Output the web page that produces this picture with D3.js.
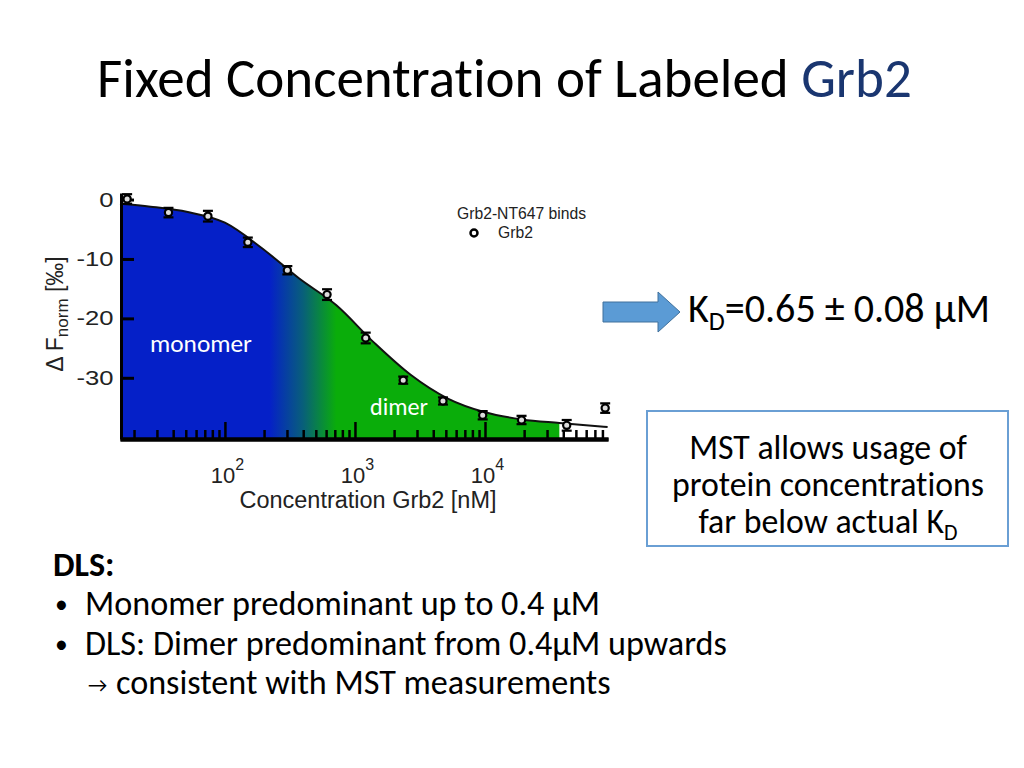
<!DOCTYPE html>
<html>
<head>
<meta charset="utf-8">
<script src="https://cdn.jsdelivr.net/npm/d3@7.9.0/dist/d3.min.js"></script>
<style>
  body { margin: 0; background: #fff; }
  svg { display: block; font-variant-ligatures: none; font-feature-settings: "liga" 0; }
</style>
</head>
<body>
<svg id="slide" width="1024" height="768"></svg>
<script>
// measured points (concentration in nM, response in per mille)
const concentration = [17.7, 36.8, 74, 150, 302, 610, 1210, 2350, 4750, 9600, 19100, 42500, 84000];
const response = [0.1, -2.2, -2.8, -7.2, -11.9, -16.0, -23.3, -30.4, -33.9, -36.3, -37.1, -38.0, -35.1];
const errorBar = [0.8, 0.8, 0.9, 0.8, 0.7, 0.9, 0.9, 0.6, 0.6, 0.7, 0.7, 0.9, 0.8];

// fitted curve
const fitConc = [15.6, 26.8, 51.8, 100, 193, 373, 720, 1390, 2680, 5180, 10000, 19300, 37300, 87700];
const fitResp = [-0.7, -1.2, -2.1, -3.9, -8.2, -13.3, -17.8, -24.0, -29.5, -33.5, -35.8, -37.0, -37.6, -38.3];

const yTicks = [0, -10, -20, -30];
const fillEnd = 37300;          // fill stops here
const blendRange = [220, 720];  // monomer -> dimer colour blend (nM)

const bullets = [
  'Monomer predominant up to 0.4 µM',
  'DLS: Dimer predominant from 0.4µM upwards'
];
const boxLines = ['MST allows usage of', 'protein concentrations', 'far below actual K'];

const slideFont = "Carlito, Calibri, Lato, 'Open Sans', sans-serif";
const chartFont = "'Liberation Sans', Arial, sans-serif";

const svg = d3.select('#slide');
svg.append('rect').attr('width', 1024).attr('height', 768).attr('fill', '#fff');

// scale text font-size so that it spans a given width
function fit(sel, width) {
  const w = sel.node().getComputedTextLength();
  const fs = parseFloat(sel.attr('font-size'));
  sel.attr('font-size', fs * width / w);
  return sel;
}

// ---------- title ----------
const title = svg.append('text')
  .attr('x', 97).attr('y', 97)
  .attr('font-family', slideFont).attr('font-size', 40);
title.append('tspan').attr('fill', '#000').text('Fixed Concentration of Labeled ');
title.append('tspan').attr('fill', '#1a3670').text('Grb2');
fit(title, 815);

// ---------- chart ----------
const xScale = d3.scaleLog().domain([15.6, 88300]).range([120, 608]);
const yScale = d3.scaleLinear().domain([1.1, -40.3]).range([193, 439]);
const bottom = yScale.range()[1];

const fit_data = fitConc.map((c, i) => ({ c, v: fitResp[i] }));
const points = concentration.map((c, i) => ({ c, v: response[i], e: errorBar[i] }));

const defs = svg.append('defs');
const grad = defs.append('linearGradient')
  .attr('id', 'blend')
  .attr('gradientUnits', 'userSpaceOnUse')
  .attr('x1', xScale(blendRange[0])).attr('x2', xScale(blendRange[1]))
  .attr('y1', 0).attr('y2', 0);
grad.append('stop').attr('offset', 0).attr('stop-color', '#0520c8');
grad.append('stop').attr('offset', 0.5).attr('stop-color', '#085f7a');
grad.append('stop').attr('offset', 1).attr('stop-color', '#0aad0a');

const chart = svg.append('g');

const area = d3.area()
  .x(d => xScale(d.c))
  .y0(bottom)
  .y1(d => yScale(d.v))
  .curve(d3.curveMonotoneX);

chart.append('path')
  .datum(fit_data.filter(d => d.c <= fillEnd))
  .attr('d', area)
  .attr('fill', 'url(#blend)');

chart.append('text')
  .attr('x', 150).attr('y', 352)
  .attr('font-family', slideFont).attr('font-size', 20)
  .attr('fill', '#fff').text('monomer')
  .call(s => fit(s, 102));
chart.append('text')
  .attr('x', 370).attr('y', 415)
  .attr('font-family', slideFont).attr('font-size', 20)
  .attr('fill', '#fff').text('dimer')
  .call(s => fit(s, 58));

// x ticks pointing up into the plot
const allTicks = xScale.ticks();
const majors = allTicks.filter(d => Math.abs(Math.log10(d) - Math.round(Math.log10(d))) < 1e-9);
const minors = allTicks.filter(d => !majors.includes(d));

const xMinor = chart.append('g')
  .attr('transform', `translate(0,${bottom})`)
  .call(d3.axisBottom(xScale).tickValues(minors).tickFormat('').tickSizeInner(-9).tickSizeOuter(0));
const xMajor = chart.append('g')
  .attr('transform', `translate(0,${bottom})`)
  .call(d3.axisBottom(xScale).tickValues(majors).tickFormat('').tickSizeInner(-17).tickSizeOuter(0));
[xMinor, xMajor].forEach(g => {
  g.selectAll('.tick line').attr('stroke', '#000').attr('stroke-width', 2.5);
  g.select('.domain').attr('stroke', '#000').attr('stroke-width', 4);
});

majors.forEach(d => {
  const t = chart.append('text')
    .attr('x', xScale(d) + 2.5).attr('y', 483)
    .attr('text-anchor', 'middle')
    .attr('font-family', chartFont).attr('font-size', 22).attr('fill', '#222');
  t.append('tspan').text('10');
  t.append('tspan').attr('font-size', 16).attr('dy', -13).text(Math.round(Math.log10(d)));
});

chart.append('text')
  .attr('x', 368).attr('y', 508)
  .attr('text-anchor', 'middle')
  .attr('font-family', chartFont).attr('font-size', 23).attr('fill', '#222')
  .text('Concentration Grb2 [nM]')
  .call(s => fit(s, 257));

// fitted line
chart.append('path')
  .datum(fit_data)
  .attr('d', d3.line().x(d => xScale(d.c)).y(d => yScale(d.v)).curve(d3.curveMonotoneX))
  .attr('fill', 'none')
  .attr('stroke', '#111')
  .attr('stroke-width', 2);

// y axis
const yAxis = chart.append('g')
  .attr('transform', 'translate(121,0)')
  .call(d3.axisLeft(yScale).tickValues(yTicks).tickFormat(d => String(d))
    .tickSizeInner(-13).tickSizeOuter(0).tickPadding(6));
yAxis.select('.domain').attr('stroke', '#000').attr('stroke-width', 3);
yAxis.selectAll('.tick line').attr('stroke', '#000').attr('stroke-width', 3);
yAxis.selectAll('.tick text')
  .attr('transform', 'scale(1.25,1)')
  .attr('font-family', chartFont).attr('font-size', 20.5).attr('fill', '#222');

const yLabel = chart.append('text')
  .attr('transform', 'translate(63,314) rotate(-90)')
  .attr('text-anchor', 'middle')
  .attr('font-family', chartFont).attr('font-size', 23).attr('fill', '#222');
yLabel.append('tspan').text('Δ F');
yLabel.append('tspan').attr('font-size', 17).attr('dy', 5).text('norm');
yLabel.append('tspan').attr('dy', -5).text(' [‰]');

// error bars + points
const pts = chart.append('g').attr('stroke', '#000').attr('stroke-width', 2.2);
pts.selectAll('line.bar').data(points).join('line')
  .attr('x1', d => xScale(d.c)).attr('x2', d => xScale(d.c))
  .attr('y1', d => yScale(d.v + d.e)).attr('y2', d => yScale(d.v - d.e));
pts.selectAll('line.capTop').data(points).join('line')
  .attr('x1', d => xScale(d.c) - 5).attr('x2', d => xScale(d.c) + 5)
  .attr('y1', d => yScale(d.v + d.e)).attr('y2', d => yScale(d.v + d.e));
pts.selectAll('line.capBot').data(points).join('line')
  .attr('x1', d => xScale(d.c) - 5).attr('x2', d => xScale(d.c) + 5)
  .attr('y1', d => yScale(d.v - d.e)).attr('y2', d => yScale(d.v - d.e));
pts.selectAll('circle').data(points).join('circle')
  .attr('cx', d => xScale(d.c)).attr('cy', d => yScale(d.v))
  .attr('r', 3.6).attr('fill', '#dcdcdc');

// legend
chart.append('text')
  .attr('x', 457).attr('y', 219)
  .attr('font-family', chartFont).attr('font-size', 15.7).attr('fill', '#222')
  .text('Grb2-NT647 binds');
chart.append('circle').attr('cx', 474).attr('cy', 233).attr('r', 3.5)
  .attr('fill', '#fff').attr('stroke', '#000').attr('stroke-width', 2.5);
chart.append('text')
  .attr('x', 498).attr('y', 238)
  .attr('font-family', chartFont).attr('font-size', 15.7).attr('fill', '#222')
  .text('Grb2');

// ---------- right side ----------
svg.append('path')
  .attr('d', 'M603,302 L658,302 L658,292 L680,312 L658,332 L658,322 L603,322 Z')
  .attr('fill', '#5b9bd5').attr('stroke', '#41719c').attr('stroke-width', 1);

const kd = svg.append('text')
  .attr('x', 688).attr('y', 322)
  .attr('font-family', slideFont).attr('font-size', 30).attr('fill', '#000');
kd.append('tspan').text('K');
kd.append('tspan').attr('font-size', '65%').attr('dy', '0.3em').text('D');
kd.append('tspan').attr('dy', '-0.2em').text('=0.65 ± 0.08 µM');
fit(kd, 302);

svg.append('rect')
  .attr('x', 647).attr('y', 411).attr('width', 361).attr('height', 135)
  .attr('fill', '#fff').attr('stroke', '#6a9fd4').attr('stroke-width', 2);

const boxText = svg.append('g')
  .attr('font-family', slideFont).attr('text-anchor', 'middle').attr('fill', '#000');
const probe = boxText.append('text').attr('font-size', 27).text(boxLines[1]);
fit(probe, 312);
const boxSize = parseFloat(probe.attr('font-size'));
probe.remove();
boxLines.forEach((line, i) => {
  const t = boxText.append('text')
    .attr('x', 828).attr('y', 459 + i * 37)
    .attr('font-size', boxSize).text(line);
  if (i === 2) {
    t.append('tspan').attr('font-size', '65%').attr('dy', '0.3em').text('D');
  }
});

// ---------- bottom text ----------
const probe2 = svg.append('text').attr('font-family', slideFont)
  .attr('font-size', 27).text(bullets[1]);
fit(probe2, 642);
const bodySize = parseFloat(probe2.attr('font-size'));
probe2.remove();

svg.append('text')
  .attr('x', 53).attr('y', 576)
  .attr('font-family', slideFont).attr('font-size', bodySize).attr('font-weight', 'bold')
  .text('DLS:');

bullets.forEach((b, i) => {
  const y = 615 + i * 40;
  svg.append('text').attr('x', 55).attr('y', y - 2)
    .attr('font-family', slideFont).attr('font-size', bodySize * 0.75).text('•');
  svg.append('text').attr('x', 85).attr('y', y)
    .attr('font-family', slideFont).attr('font-size', bodySize).text(b);
});
svg.append('text').attr('x', 88).attr('y', 692)
  .attr('font-family', slideFont).attr('font-size', bodySize * 0.62).text('→');
svg.append('text').attr('x', 116).attr('y', 694)
  .attr('font-family', slideFont).attr('font-size', bodySize)
  .text('consistent with MST measurements');
</script>
</body>
</html>
